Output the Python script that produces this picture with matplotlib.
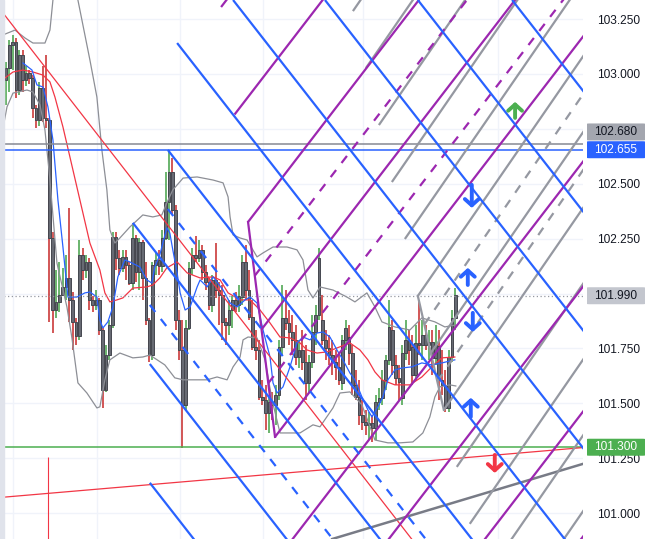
import matplotlib
matplotlib.use("Agg")
import matplotlib.pyplot as plt
import matplotlib.transforms as mtransforms
from matplotlib.patches import Rectangle, FancyBboxPatch
import numpy as np

# ---- candles (bar index = position in list) ----
opens = [102.973, 103.027, 103.132, 103.146, 102.927, 103.087, 102.973, 103.005, 102.982, 102.845,
         102.791, 102.936, 102.800, 102.791, 102.253, 101.925, 101.962, 101.994, 102.030, 102.071,
         101.971, 101.871, 101.807, 102.176, 102.107, 102.144, 101.971, 101.948, 101.971, 101.834,
         101.561, 101.720, 101.857, 102.258, 102.162, 102.117, 102.167, 102.130, 102.048, 102.253,
         102.098, 102.235, 102.071, 101.880, 101.720, 102.130, 102.153, 102.126, 102.253, 102.417,
         102.554, 102.381, 101.880, 101.743, 101.493, 101.843, 102.117, 102.176, 102.162, 102.199,
         102.098, 102.053, 101.948, 102.062, 102.016, 101.994, 101.871, 101.857, 101.925, 101.971,
         101.948, 101.984, 102.144, 102.016, 101.893, 101.757, 101.743, 101.529, 101.516, 101.456,
         101.506, 101.493, 101.538, 101.757, 101.889, 101.866, 101.825, 101.789, 101.711, 101.743,
         101.689, 101.593, 101.689, 101.825, 101.902, 101.880, 101.789, 101.752, 101.720, 101.689,
         101.666, 101.593, 101.789, 101.802, 101.729, 101.584, 101.529, 101.447, 101.415, 101.402,
         101.411, 101.388, 101.506, 101.525, 101.607, 101.698, 101.834, 101.675, 101.616, 101.525,
         101.729, 101.789, 101.757, 101.629, 101.775, 101.766, 101.811, 101.766, 101.780, 101.707,
         101.761, 101.607, 101.584, 101.479, 101.711, 101.889]
highs = [103.055, 103.155, 103.178, 103.164, 103.109, 103.109, 103.036, 103.018, 102.995, 102.859,
         102.964, 103.036, 103.087, 102.800, 102.280, 102.107, 102.144, 102.117, 102.176, 102.390,
         102.007, 101.889, 102.244, 102.208, 102.176, 102.162, 101.989, 102.016, 101.980, 101.843,
         101.766, 101.880, 102.280, 102.280, 102.199, 102.199, 102.199, 102.144, 102.321, 102.267,
         102.253, 102.244, 102.144, 101.889, 102.144, 102.189, 102.199, 102.290, 102.554, 102.654,
         102.617, 102.403, 101.925, 101.880, 101.880, 102.144, 102.208, 102.262, 102.244, 102.221,
         102.130, 102.071, 102.085, 102.230, 102.053, 102.039, 101.889, 101.971, 101.989, 102.007,
         102.039, 102.176, 102.221, 102.107, 101.971, 101.834, 101.789, 101.607, 101.584, 101.538,
         101.552, 101.584, 101.789, 102.039, 102.016, 101.925, 101.902, 101.857, 101.789, 101.834,
         101.766, 101.720, 101.902, 101.948, 102.208, 101.994, 101.834, 101.811, 101.789, 101.743,
         101.720, 101.811, 101.880, 101.857, 101.766, 101.652, 101.607, 101.516, 101.470, 101.461,
         101.447, 101.538, 101.570, 101.652, 101.720, 101.971, 101.880, 101.720, 101.675, 101.766,
         101.880, 101.834, 101.811, 101.857, 101.971, 101.880, 101.857, 101.834, 101.834, 101.857,
         101.834, 101.743, 101.652, 101.743, 101.925, 102.025]
lows = [102.859, 102.918, 103.018, 102.891, 102.904, 102.918, 102.945, 102.955, 102.800, 102.754,
        102.763, 102.781, 102.754, 101.871, 101.820, 101.889, 101.916, 101.989, 101.971, 101.871,
        101.743, 101.766, 101.789, 102.062, 102.071, 101.925, 101.916, 101.925, 101.811, 101.479,
        101.552, 101.698, 101.843, 102.107, 102.085, 102.098, 102.062, 102.039, 102.016, 102.053,
        102.016, 101.971, 101.857, 101.689, 101.698, 102.085, 102.085, 102.098, 102.244, 102.244,
        102.358, 101.834, 101.698, 101.297, 101.470, 101.834, 102.085, 102.144, 102.144, 102.062,
        102.016, 101.925, 101.916, 101.980, 101.857, 101.789, 101.766, 101.811, 101.843, 101.916,
        101.916, 101.948, 101.971, 101.880, 101.743, 101.698, 101.516, 101.493, 101.379, 101.365,
        101.424, 101.402, 101.516, 101.720, 101.834, 101.766, 101.720, 101.675, 101.661, 101.652,
        101.516, 101.552, 101.661, 101.766, 101.880, 101.766, 101.698, 101.675, 101.629, 101.607,
        101.584, 101.561, 101.743, 101.675, 101.538, 101.516, 101.402, 101.379, 101.356, 101.333,
        101.324, 101.333, 101.470, 101.493, 101.561, 101.675, 101.629, 101.584, 101.516, 101.493,
        101.698, 101.675, 101.584, 101.607, 101.720, 101.698, 101.743, 101.698, 101.629, 101.675,
        101.516, 101.538, 101.461, 101.461, 101.689, 101.834]
closes = [103.027, 103.132, 103.146, 102.927, 103.087, 102.973, 103.005, 102.982, 102.845, 102.791,
          102.936, 102.800, 102.791, 102.253, 101.925, 101.962, 101.994, 102.030, 102.071, 101.971,
          101.871, 101.807, 102.176, 102.107, 102.144, 101.971, 101.948, 101.971, 101.834, 101.561,
          101.720, 101.857, 102.258, 102.162, 102.117, 102.167, 102.130, 102.048, 102.253, 102.098,
          102.235, 102.071, 101.880, 101.720, 102.130, 102.153, 102.126, 102.253, 102.417, 102.554,
          102.381, 101.880, 101.743, 101.493, 101.843, 102.117, 102.176, 102.162, 102.199, 102.098,
          102.053, 101.948, 102.062, 102.016, 101.994, 101.871, 101.857, 101.925, 101.971, 101.948,
          101.989, 102.144, 102.016, 101.893, 101.757, 101.743, 101.529, 101.516, 101.456, 101.506,
          101.493, 101.538, 101.757, 101.889, 101.866, 101.825, 101.789, 101.711, 101.743, 101.689,
          101.593, 101.689, 101.825, 101.902, 102.162, 101.789, 101.752, 101.720, 101.689, 101.666,
          101.607, 101.789, 101.843, 101.729, 101.584, 101.529, 101.447, 101.415, 101.402, 101.411,
          101.388, 101.506, 101.525, 101.607, 101.698, 101.848, 101.675, 101.616, 101.597, 101.729,
          101.789, 101.743, 101.629, 101.775, 101.766, 101.811, 101.766, 101.780, 101.707, 101.766,
          101.607, 101.584, 101.479, 101.711, 101.889, 101.994]

# ---- indicators (bar, price) ----
bb_upper_x = [-0.9, 2.7, 5.7, 8.1, 11.7, 13.2, 14.1, 17.7, 21.6, 25.2, 27.3, 28.8, 30.3, 31.2, 32.7,
              34.2, 37.2, 41.1, 44.1, 46.8, 48.3, 50.1, 53.2, 57.4, 62.2, 65.2, 66.7, 67.3, 68.2,
              70.3, 72.4, 75.4, 77.2, 80.2, 84.4, 87.4, 89.2, 90.7, 92.2, 94.3, 98.2, 102.4, 104.8,
              108.4, 110.8, 112.9, 116.8, 121.3, 124.9, 128.8, 131.8, 135.1]
bb_upper = [103.178, 103.200, 103.164, 103.141, 103.141, 103.200, 103.337, 104.020, 103.337, 103.064,
            102.895, 102.654, 102.472, 102.290, 102.230, 102.253, 102.303, 102.358, 102.349, 102.358,
            102.413, 102.472, 102.526, 102.531, 102.517, 102.504, 102.440, 102.349, 102.267, 102.253,
            102.244, 102.167, 102.185, 102.212, 102.212, 102.199, 102.153, 102.016, 101.980, 102.030,
            102.016, 101.984, 101.962, 102.003, 101.939, 101.871, 101.848, 101.834, 101.889, 101.871,
            101.848, 101.857]
bb_lower_x = [-0.9, 0.3, 2.1, 6.3, 8.1, 10.2, 11.7, 13.2, 15.3, 18.3, 19.8, 21.6, 24.3, 27.3, 28.2,
              29.7, 31.2, 34.2, 38.1, 41.1, 43.2, 47.7, 50.7, 53.2, 60.4, 63.4, 66.4, 68.2, 70.3,
              71.2, 72.7, 75.4, 77.8, 79.9, 82.3, 88.3, 92.2, 94.3, 98.2, 100.3, 103.3, 106.9,
              110.8, 114.7, 118.3, 122.2, 125.2, 127.3, 128.8, 130.3, 133.3, 135.1]
bb_lower = [102.754, 102.850, 102.913, 102.927, 102.918, 102.859, 102.745, 102.517, 102.139, 101.939,
            101.798, 101.593, 101.547, 101.479, 101.484, 101.607, 101.698, 101.729, 101.707, 101.711,
            101.720, 101.675, 101.616, 101.607, 101.607, 101.620, 101.607, 101.666, 101.711, 101.789,
            101.802, 101.798, 101.698, 101.516, 101.365, 101.365, 101.402, 101.393, 101.479, 101.547,
            101.552, 101.493, 101.333, 101.320, 101.320, 101.324, 101.365, 101.438, 101.529, 101.575,
            101.584, 101.579]
ma_red_x = [-0.3, 2.1, 5.1, 8.1, 11.1, 13.2, 14.7, 17.1, 19.2, 22.2, 25.2, 28.2, 29.7, 31.2, 33.3,
            35.1, 38.1, 42.3, 44.1, 46.2, 48.3, 51.4, 54.4, 58.3, 62.2, 64.3, 66.7, 70.3, 73.3,
            76.3, 79.3, 82.3, 85.3, 88.3, 90.4, 93.4, 96.4, 99.4, 103.3, 106.3, 108.7, 110.8,
            112.9, 116.8, 121.3, 124.9, 127.9, 130.9, 134.8]
ma_red = [102.982, 103.009, 103.018, 103.009, 102.995, 102.964, 102.895, 102.759, 102.622, 102.426,
          102.230, 102.107, 102.003, 101.962, 101.971, 101.980, 102.025, 102.030, 102.039, 102.071,
          102.117, 102.144, 102.094, 102.071, 102.076, 102.062, 102.003, 101.971, 101.971, 101.925,
          101.866, 101.802, 101.798, 101.775, 101.743, 101.729, 101.734, 101.752, 101.775, 101.743,
          101.698, 101.643, 101.607, 101.584, 101.584, 101.620, 101.666, 101.707, 101.711]
ma_blue_x = [5.1, 7.8, 9.3, 11.1, 12.6, 14.1, 15.6, 17.1, 18.6, 21.3, 23.7, 25.2, 27.3, 28.2, 29.1,
             30.6, 32.1, 33.6, 35.7, 37.2, 40.2, 42.3, 43.8, 44.7, 46.2, 47.1, 48.3, 49.2, 50.1,
             51.4, 52.3, 53.8, 55.3, 57.4, 58.3, 60.4, 62.2, 65.2, 67.3, 69.4, 71.8, 73.3, 75.4,
             77.2, 79.3, 80.2, 81.4, 83.2, 85.3, 87.4, 89.2, 91.3, 93.4, 95.2, 97.3, 99.4, 101.2,
             103.3, 104.8, 106.9, 108.7, 109.9, 111.7, 113.2, 114.7, 116.8, 118.9, 121.9, 124.9,
             127.9, 130.9, 134.8]
ma_blue = [103.050, 103.018, 102.950, 102.941, 102.850, 102.699, 102.426, 102.212, 101.984, 101.984,
           102.003, 102.007, 101.984, 101.880, 101.843, 101.871, 101.939, 102.076, 102.153, 102.144,
           102.121, 102.062, 102.048, 102.121, 102.176, 102.230, 102.299, 102.276, 102.199, 102.094,
           102.003, 101.925, 101.939, 102.030, 102.062, 102.030, 102.076, 102.016, 101.957, 101.939,
           101.971, 101.984, 101.957, 101.834, 101.711, 101.593, 101.547, 101.575, 101.666, 101.775,
           101.802, 101.789, 101.820, 101.825, 101.802, 101.743, 101.698, 101.638, 101.607, 101.529,
           101.470, 101.438, 101.484, 101.529, 101.607, 101.652, 101.661, 101.666, 101.684, 101.675,
           101.684, 101.698]

# ---- drawings (bar, price) ----
purple_pivots = [(72.7, 102.326), (80.8, 101.347)]
purple_levels = [-1, -0.5, 0, 0.5, 1, 1.5, 2, 2.5, 3]
purple_dashed = [0.25, 0.75]
purple_slope = 0.01971

gray_pivots = [(123.7, 101.989), (131.5, 101.470)]
gray_levels = [-2.5, -2, -1.5, -1, -0.5, 0, 0.5, 1, 1.5, 2, 2.5, 3]
gray_dashed = [0.25, 0.75]
gray_slope = 0.02199

blue_starts = [(43.2, 101.138), (43.2, 101.679), (38.1, 102.322), (48.6, 102.654), (51.4, 103.141),
               (68.2, 103.337), (95.8, 103.337), (123.7, 103.337), (152.0, 103.337)]
blue_dashed_starts = [(48.6, 102.385), (43.2, 101.948)]
blue_slope = -0.01941

red_trend_a = [(-0.9, 103.278), (105.7, 101.197)]
red_trend_b = [(28.2, 101.110), (95.2, 101.197)]
gray_trend = [(98.2, 100.883), (167.3, 101.197)]
red_vline = (12.6, 101.256)

h_gray, h_blue, h_green, last_price = 102.680, 102.655, 101.300, 101.990
time_grid = [2.1, 27.3, 52.3, 77.2, 107.2, 147.7]

arrow_x = [139.9, 138.7, 140.2, 139.6, 152.9, 146.8]
arrow_from = [102.495, 102.039, 101.912, 101.438, 102.800, 101.265]
arrow_to = [102.390, 102.117, 101.825, 101.525, 102.873, 101.183]
arrow_kind = ["blue", "blue", "blue", "blue", "green", "red"]

# price-scale ticks; 102.000 sits under the last-price tag, so it is not printed
tick_prices = [101.0, 101.25, 101.5, 101.75, 102.25, 102.5, 102.75, 103.0, 103.25]

BLUE, PURPLE, GRAY = "#2962ff", "#9c27b0", "#9598a1"
COL = {"blue": BLUE, "green": "#4caf50", "red": "#f23645"}

plt.rcParams["font.family"] = ["Liberation Sans", "DejaVu Sans"]
fig = plt.figure(figsize=(6.49, 5.39), dpi=100)
ax = fig.add_axes([0, 0, 583 / 649, 1])
x0, x1 = -1.8, 173.3
y0, y1 = 100.882, 103.337
ax.set_xlim(x0, x1)
ax.set_ylim(y0, y1)

# grid
for p in np.arange(101.0, 103.3, 0.25):
    ax.axhline(p, color="#f0f3fa", lw=1, zorder=0)
for t in time_grid:
    ax.axvline(t, color="#f0f3fa", lw=1, zorder=0)

# candles
idx = np.arange(len(closes))
o, h, l, c = map(np.array, (opens, highs, lows, closes))
up = c >= o
wick_cols = np.where(up, "#43a047", "#c62828")
ax.vlines(idx, l, h, colors=wick_cols, lw=1.1, zorder=2)
body_lo = np.minimum(o, c)
body_h = np.maximum(np.abs(c - o), 0.006)
ax.bar(idx, body_h, bottom=body_lo, width=0.8, color="#676a73",
       edgecolor="#45474f", linewidth=0.7, zorder=3)

# indicators
ax.plot(bb_upper_x, bb_upper, color="#8d8f96", lw=0.9, zorder=4)
ax.plot(bb_lower_x, bb_lower, color="#8d8f96", lw=0.9, zorder=4)
ax.plot(ma_red_x, ma_red, color="#f23645", lw=0.9, zorder=4)
ax.plot(ma_blue_x, ma_blue, color=BLUE, lw=0.9, zorder=4)

# horizontal levels
ax.axhline(h_gray, color="#868993", lw=1.1, zorder=4)
ax.axhline(h_blue, color=BLUE, lw=1.1, zorder=4)
ax.axhline(h_green, color="#4caf50", lw=1.1, zorder=4)
ax.axhline(last_price, color="#9598a1", lw=0.9, ls=(0, (1, 2)), zorder=4)

# trend lines
ax.axline(*red_trend_a, color="#f23645", lw=0.9, zorder=4)
ax.axline(*red_trend_b, color="#f23645", lw=0.9, zorder=4)
ax.axline(*gray_trend, color="#787b86", lw=1.8, zorder=4)
ax.vlines(red_vline[0], y0, red_vline[1], color="#f23645", lw=0.8, zorder=4)


def ray(start, slope, dashed=False, color=BLUE):
    xs = [start[0], x1 + 20]
    ys = [start[1], start[1] + slope * (xs[1] - start[0])]
    ls = (0, (4, 4)) if dashed else "-"
    ax.plot(xs, ys, color=color, lw=1.6, ls=ls, zorder=5, solid_capstyle="butt")


def fork(pivots, levels, dashed, slope, color):
    (ax0, ay0), (ax1, ay1) = pivots
    ax.plot([ax0, ax1], [ay0, ay1], color=color, lw=1.6, zorder=5)
    for t in levels:
        ray((ax0 + t * (ax1 - ax0), ay0 + t * (ay1 - ay0)), slope, False, color)
    for t in dashed:
        ray((ax0 + t * (ax1 - ax0), ay0 + t * (ay1 - ay0)), slope, True, color)


fork(gray_pivots, gray_levels, gray_dashed, gray_slope, GRAY)
fork(purple_pivots, purple_levels, purple_dashed, purple_slope, PURPLE)
for s in blue_starts:
    ray(s, blue_slope)
for s in blue_dashed_starts:
    ray(s, blue_slope, dashed=True)

# arrows
for xa, fa, ta, k in zip(arrow_x, arrow_from, arrow_to, arrow_kind):
    ax.annotate("", xy=(xa, ta), xytext=(xa, fa),
                arrowprops=dict(arrowstyle="->,head_width=0.5,head_length=0.45",
                                lw=2.8, color=COL[k], shrinkA=0, shrinkB=0),
                zorder=6)

# price scale
ax.set_yticks(tick_prices)
ax.set_yticklabels([f"{t:.3f}" for t in tick_prices])
ax.yaxis.tick_right()
ax.tick_params(axis="y", length=0, pad=10, labelsize=8.6, labelcolor="#131722")
ax.set_xticks([])
for sp in ax.spines.values():
    sp.set_visible(False)

trans = mtransforms.blended_transform_factory(ax.transAxes, ax.transData)
box_h = 17 / 219.6
label_boxes = [(102.736, "102.680", "#a3a6af", "#131722"),
               (h_blue, "102.655", BLUE, "white"),
               (last_price, "101.990", "#c3c6ce", "#131722"),
               (h_green, "101.300", "#4caf50", "white")]
for yv, txt, fc, tc in label_boxes:
    box = FancyBboxPatch((587 / 583, yv - box_h / 2), 58 / 583, box_h,
                         boxstyle="round,pad=0,rounding_size=0.004",
                         transform=trans, fc=fc, ec="none", clip_on=False, zorder=9,
                         mutation_aspect=box_h / (58 / 583) * 0.5)
    ax.add_patch(box)
    ax.text(616 / 583, yv, txt, transform=trans, ha="center", va="center",
            fontsize=8.6, color=tc, clip_on=False, zorder=10)

fig.patches.append(Rectangle((0, 0), 4 / 649, 1, transform=fig.transFigure,
                             color="#e0e3eb", zorder=20))

fig.savefig("out.png", dpi=100)
